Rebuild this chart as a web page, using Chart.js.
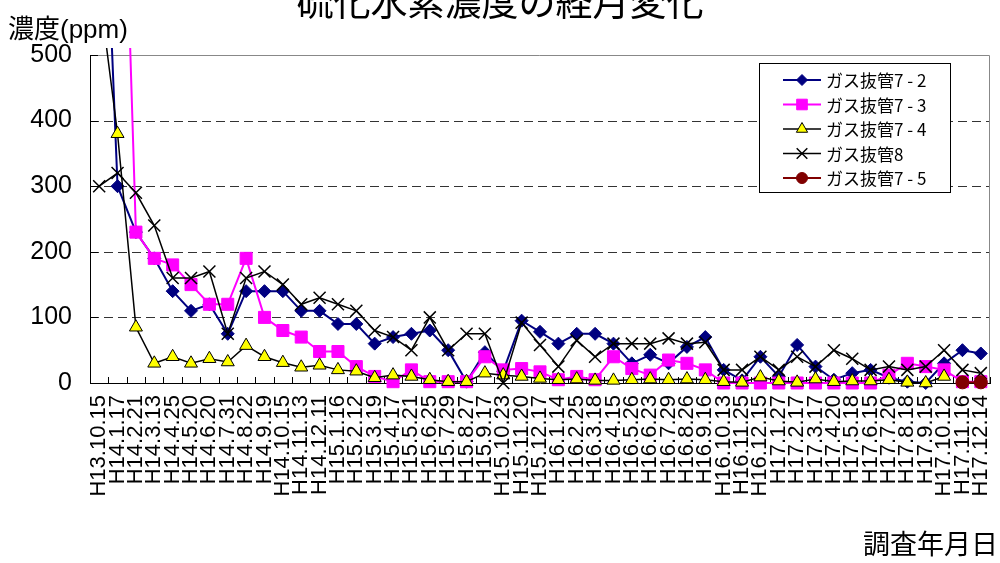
<!DOCTYPE html>
<html>
<head>
<meta charset="utf-8">
<script src="https://cdn.jsdelivr.net/npm/chart.js@4.4.1/dist/chart.umd.min.js"></script>
<style>
  body { margin: 0; background: #fff; }
  #wrap { width: 1000px; height: 563px; position: relative; }
</style>
</head>
<body>
<div id="wrap"><canvas id="chart"></canvas></div>
<script>
// survey dates (Heisei era)
const dates = [
  'H13.10.15', 'H14.1.17', 'H14.2.21', 'H14.3.13', 'H14.4.25', 'H14.5.20', 'H14.6.20',
  'H14.7.31', 'H14.8.22', 'H14.9.19', 'H14.10.15', 'H14.11.13', 'H14.12.11', 'H15.1.16',
  'H15.2.12', 'H15.3.19', 'H15.4.17', 'H15.5.21', 'H15.6.25', 'H15.7.29', 'H15.8.27',
  'H15.9.17', 'H15.10.23', 'H15.11.20', 'H15.12.17', 'H16.1.14', 'H16.2.25', 'H16.3.18',
  'H16.4.15', 'H16.5.26', 'H16.6.23', 'H16.7.29', 'H16.8.26', 'H16.9.16', 'H16.10.13',
  'H16.11.25', 'H16.12.15', 'H17.1.27', 'H17.2.17', 'H17.3.17', 'H17.4.20', 'H17.5.18',
  'H17.6.15', 'H17.7.20', 'H17.8.18', 'H17.9.15', 'H17.10.12', 'H17.11.16', 'H17.12.14'
];

// H2S concentration, ppm
const pipe72 = [
  990, 300, 230, 190, 140, 110, 120, 75, 140, 140, 140, 110, 110, 90, 90, 60, 70,
  75, 80, 50, 2, 47, 18, 95, 78, 60, 75, 75, 60, 30, 43, 30, 55, 70, 20, 4, 40,
  10, 58, 25, 5, 15, 20, 8, 2, 0, 30, 50, 45
];
const pipe73 = [
  null, 1130, 230, 190, 180, 150, 120, 120, 190, 100, 80, 70, 48, 48, 25, 10, 2,
  20, 2, 2, 2, 40, 20, 22, 17, 5, 10, 5, 40, 22, 12, 35, 30, 20, 0, 0, 0,
  0, 0, 0, 0, 0, 0, 12, 30, 25, 20, 2, 2
];
const pipe74 = [
  600, 380, 85, 30, 40, 30, 37, 32, 57, 40, 31, 24, 27, 20, 18, 8, 12,
  10, 5, 2, 2, 15, 12, 10, 7, 5, 6, 4, 4, 5, 6, 5, 6, 5, 2, 1, 9,
  3, 1, 6, 2, 3, 3, 5, 1, 0, 10, null, null
];
const pipe8 = [
  300, 320, 290, 240, 160, 160, 170, 75, 160, 170, 150, 120, 130, 120, 110, 80, 70,
  50, 100, 50, 75, 75, 0, 92, 58, 25, 65, 40, 60, 60, 60, 68, 60, 62, 20, 20, 40,
  20, 40, 25, 50, 37, 20, 25, 20, 25, 50, 20, 15
];
const pipe75 = [
  null, null, null, null, null, null, null, null, null, null, null, null, null, null, null, null, null,
  null, null, null, null, null, null, null, null, null, null, null, null, null, null, null, null, null, null, null, null,
  null, null, null, null, null, null, null, null, null, null, 1, 1
];
const yTicks = [0, 100, 200, 300, 400, 500];

const jpFont = "'Liberation Sans', 'Noto Sans CJK JP', sans-serif";
Chart.defaults.font.family = jpFont;
Chart.defaults.color = '#000';

// dashed gridlines, gray frame, small inner tick marks
const frame = {
  id: 'frame',
  beforeDatasetsDraw(chart) {
    const { ctx, chartArea: a, scales: { x, y } } = chart;
    ctx.save();
    ctx.lineWidth = 1;
    ctx.strokeStyle = '#333';
    ctx.setLineDash([9, 5]);
    yTicks.slice(1, -1).forEach(v => {
      const py = Math.round(y.getPixelForValue(v)) + 0.5;
      ctx.beginPath();
      ctx.moveTo(a.left, py);
      ctx.lineTo(a.right, py);
      ctx.stroke();
    });
    ctx.setLineDash([]);
    ctx.strokeStyle = '#888';
    const top = Math.round(a.top) + 0.5;
    const right = Math.round(a.right) - 0.5;
    ctx.beginPath();
    ctx.moveTo(a.left, top);
    ctx.lineTo(right, top);
    ctx.lineTo(right, a.bottom);
    ctx.stroke();
    ctx.strokeStyle = '#000';
    ctx.beginPath();
    yTicks.forEach(v => {
      const py = Math.round(y.getPixelForValue(v)) + 0.5;
      ctx.moveTo(a.left, py);
      ctx.lineTo(a.left + 8, py);
    });
    const step = x.getPixelForValue(1) - x.getPixelForValue(0);
    for (let i = 0; i <= dates.length; i++) {
      const px = Math.round(x.getPixelForValue(0) - step / 2 + i * step) + 0.5;
      ctx.moveTo(px, a.bottom);
      ctx.lineTo(px, a.bottom - 6);
    }
    ctx.stroke();
    ctx.restore();
  }
};

// legend box inside the plot, titles
const extras = {
  id: 'extras',
  afterDatasetsDraw(chart) {
    const { ctx, chartArea: a } = chart;
    const bx = a.right - 231, by = a.top + 8, bw = 191, bh = 129;
    ctx.save();
    ctx.fillStyle = '#fff';
    ctx.fillRect(bx, by, bw, bh);
    ctx.strokeStyle = '#000';
    ctx.lineWidth = 1;
    ctx.strokeRect(bx + 0.5, by + 0.5, bw, bh);
    chart.data.datasets.forEach((ds, k) => {
      const ry = by + 17 + k * 24.5;
      ctx.strokeStyle = ds.borderColor;
      ctx.lineWidth = ds.borderWidth;
      ctx.beginPath();
      ctx.moveTo(bx + 24, ry);
      ctx.lineTo(bx + 62, ry);
      ctx.stroke();
      ctx.fillStyle = ds.pointBackgroundColor;
      ctx.strokeStyle = ds.pointBorderColor;
      ctx.lineWidth = ds.pointBorderWidth;
      Chart.helpers.drawPoint(ctx, {
        pointStyle: ds.pointStyle,
        radius: ds.pointRadius - 1,
        rotation: 0,
        borderWidth: ds.pointBorderWidth
      }, bx + 43, ry);
      ctx.fillStyle = '#000';
      ctx.font = "17px 'Noto Sans CJK JP'";
      ctx.textBaseline = 'middle';
      ctx.textAlign = 'left';
      ctx.fillText(ds.label, bx + 67, ry + 1);
    });
    ctx.restore();
  },
  afterDraw(chart) {
    const { ctx } = chart;
    ctx.save();
    ctx.fillStyle = '#000';
    ctx.textBaseline = 'alphabetic';
    ctx.textAlign = 'center';
    ctx.font = "37px 'Noto Sans CJK JP'";
    ctx.fillText('硫化水素濃度の経月変化', 500, 16);
    ctx.textAlign = 'left';
    ctx.font = "26px " + jpFont;
    ctx.fillText('濃度(ppm)', 8, 38);
    ctx.textAlign = 'right';
    ctx.font = "27px 'Noto Sans CJK JP'";
    ctx.fillText('調査年月日', 998, 554);
    ctx.restore();
  }
};

function series(label, data, color, style, radius, fill, border, order) {
  return {
    label: label,
    data: data,
    borderColor: color,
    borderWidth: color === '#000000' ? 1.5 : 2,
    pointStyle: style,
    pointRadius: radius,
    pointHoverRadius: radius,
    pointBackgroundColor: fill,
    pointBorderColor: border,
    pointBorderWidth: style === 'crossRot' ? 1.5 : 1,
    tension: 0,
    order: order,
    clip: { left: 10, top: 7, right: 10, bottom: 10 }
  };
}

new Chart(document.getElementById('chart'), {
  type: 'line',
  data: {
    labels: dates,
    datasets: [
      series('ガス抜管7 - 2', pipe72, '#000080', 'rectRot', 6.5, '#000080', '#000080', 5),
      series('ガス抜管7 - 3', pipe73, '#FF00FF', 'rect', 8.5, '#FF00FF', '#FF00FF', 4),
      series('ガス抜管7 - 4', pipe74, '#000000', 'triangle', 7.5, '#FFFF00', '#000000', 3),
      series('ガス抜管8', pipe8, '#000000', 'crossRot', 8.5, '#000000', '#000000', 2),
      series('ガス抜管7 - 5', pipe75, '#800000', 'circle', 6.5, '#800000', '#800000', 1)
    ]
  },
  options: {
    responsive: true,
    maintainAspectRatio: false,
    animation: false,
    events: [],
    layout: { padding: { left: 0, right: 3, top: 55, bottom: 0 } },
    plugins: {
      legend: { display: false },
      title: { display: false },
      tooltip: { enabled: false }
    },
    scales: {
      x: {
        type: 'category',
        offset: true,
        grid: { display: false, drawTicks: false },
        border: { display: true, color: '#000', width: 1 },
        ticks: {
          autoSkip: false,
          maxRotation: 90,
          minRotation: 90,
          padding: 12,
          font: { size: 22 }
        },
        afterFit: s => {
          s.height = 180;
          s.paddingLeft = 0;
          s.paddingRight = 0;
        }
      },
      y: {
        min: 0,
        max: 500,
        grid: { display: false, drawTicks: false },
        border: { display: true, color: '#000', width: 1 },
        ticks: {
          stepSize: 100,
          padding: 18,
          font: { size: 25 }
        },
        afterFit: s => { s.width = 90; }
      }
    }
  },
  plugins: [frame, extras]
});
</script>
</body>
</html>
